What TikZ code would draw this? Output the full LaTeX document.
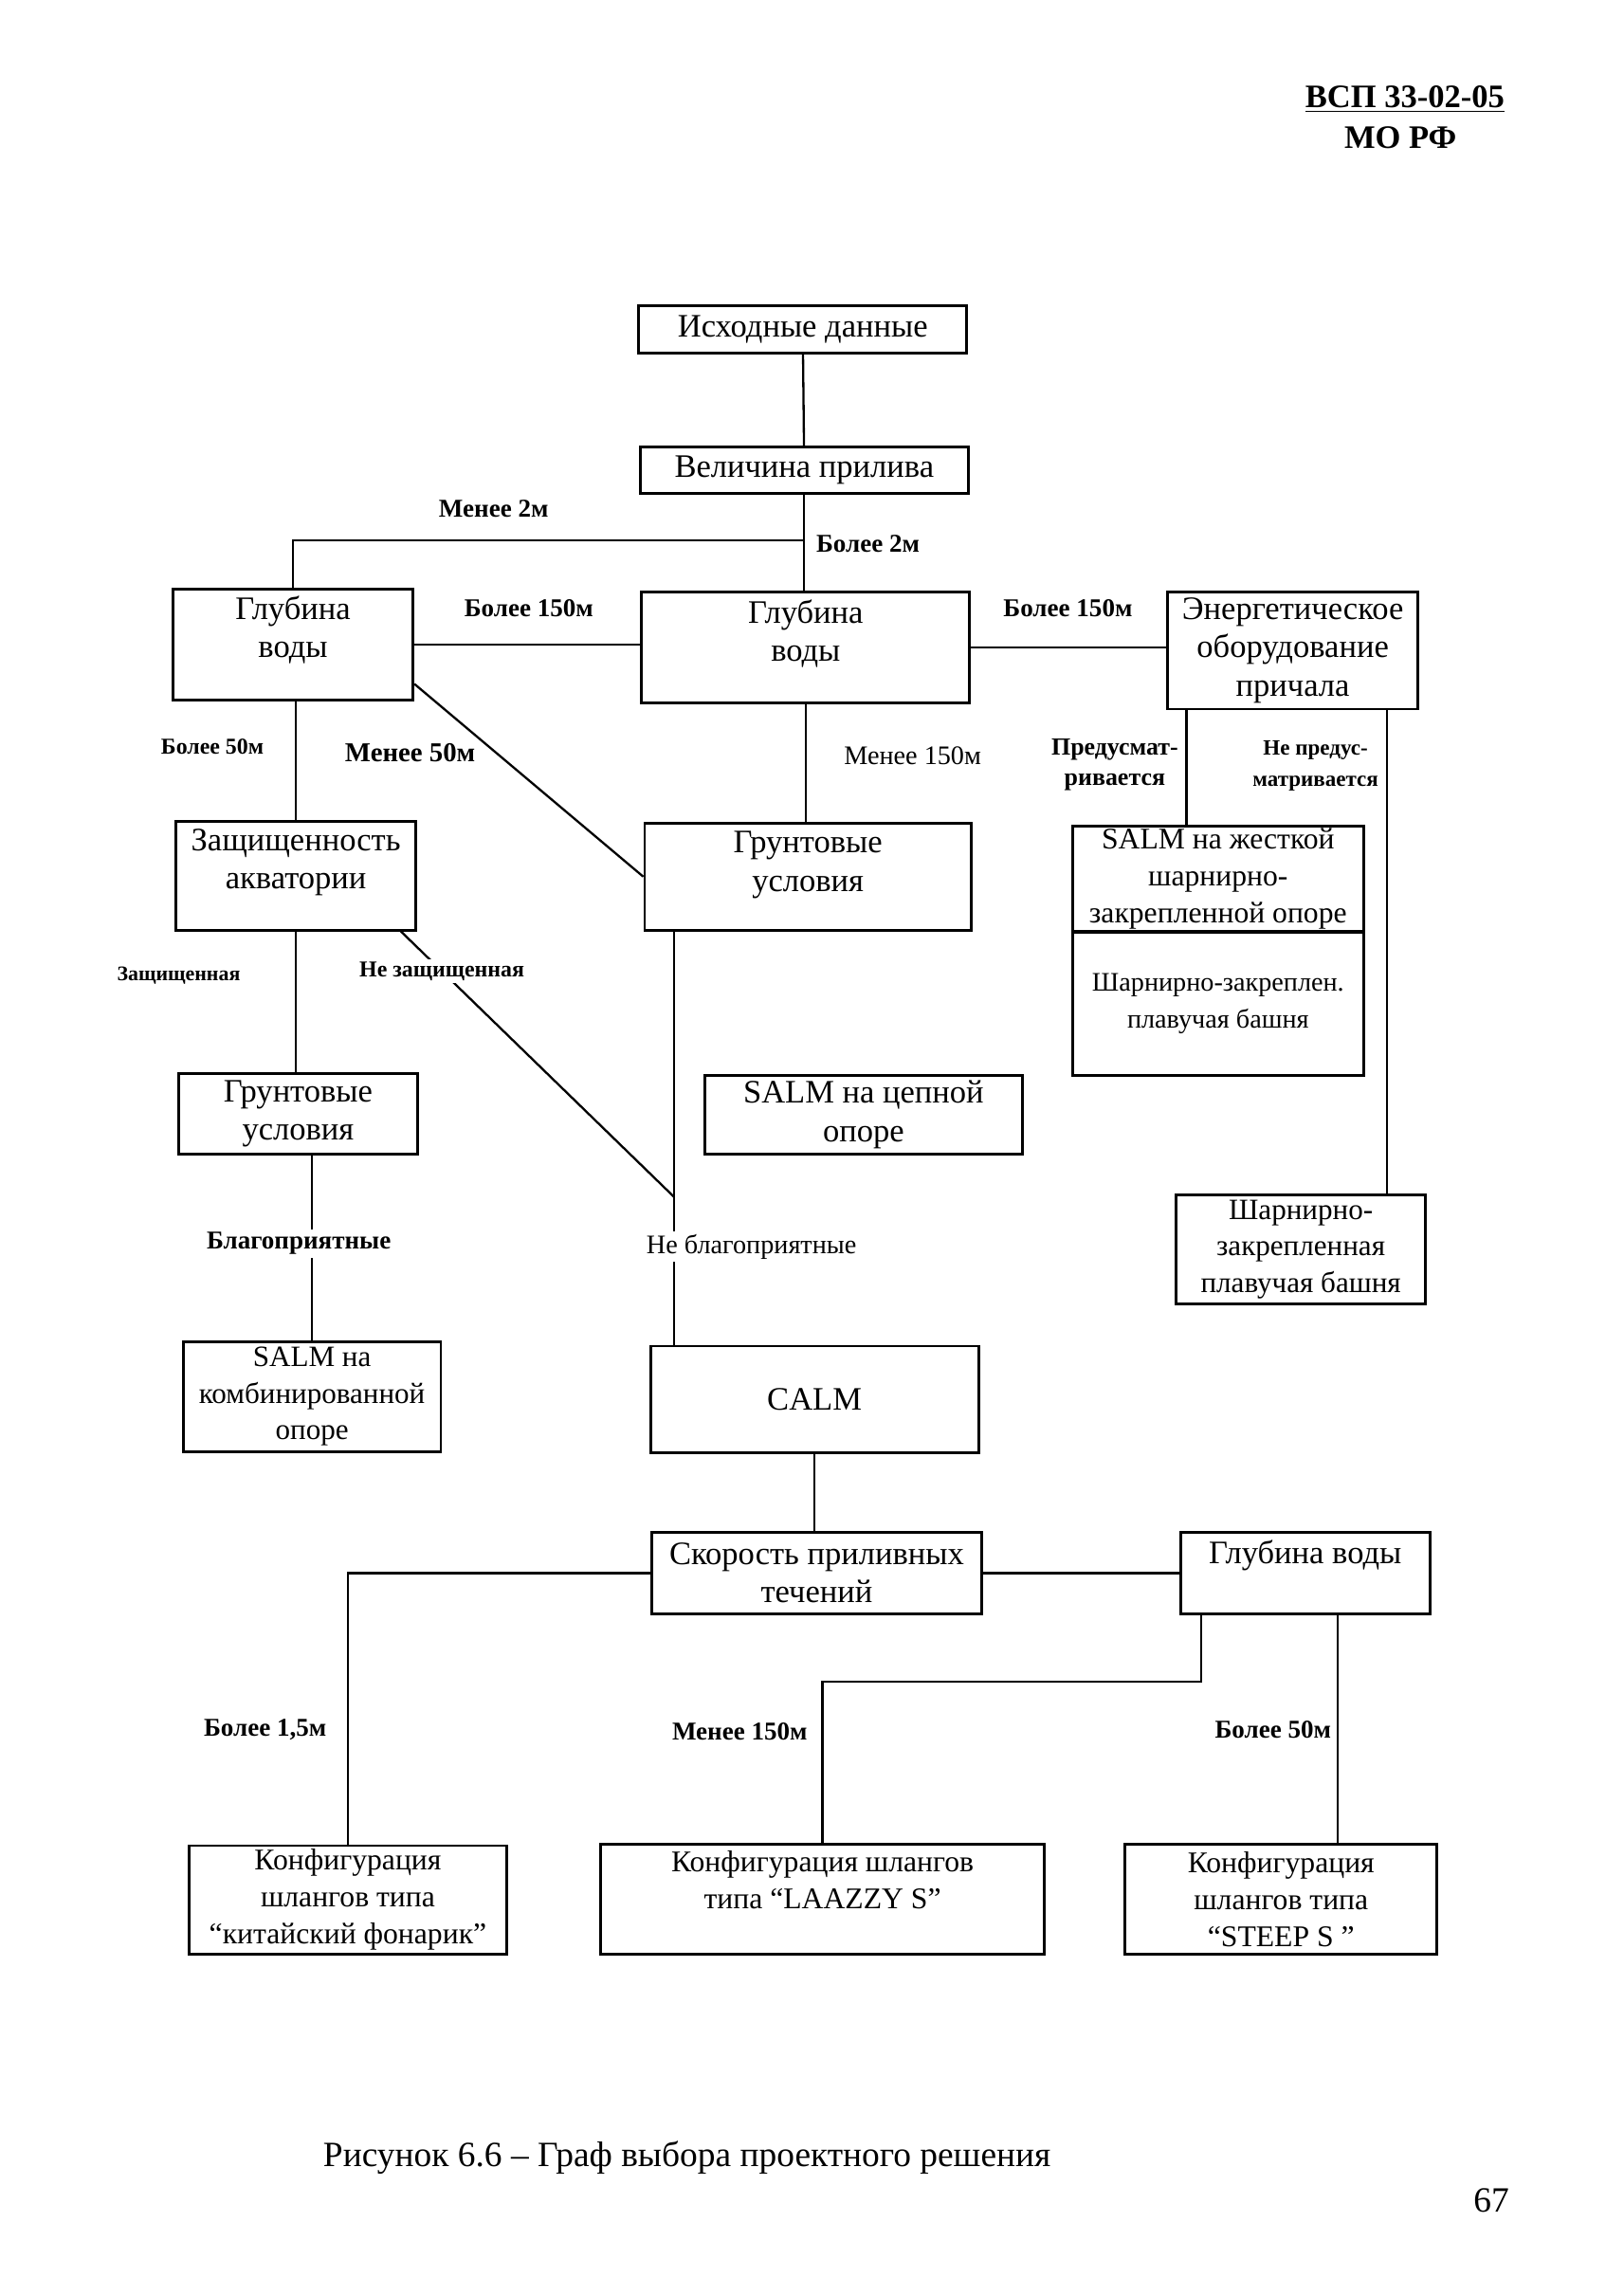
\documentclass[tikz,border=0pt]{standalone}
\usepackage{fontspec}
\setmainfont{Liberation Serif}
\begin{document}
\begin{tikzpicture}[x=0.5367pt, y=-0.5367pt,
  box/.style={draw=black, line width=1pt, align=center, inner sep=1pt,
    font=\fontsize{12pt}{14pt}\selectfont},
  smallbox/.style={box, font=\fontsize{11pt}{13.5pt}\selectfont},
  lbl/.style={font=\fontsize{9.4pt}{11pt}\selectfont\bfseries, align=center, inner sep=1pt},
  tinylbl/.style={lbl, font=\fontsize{8.3pt}{11.3pt}\selectfont\bfseries},
  plainlbl/.style={lbl, font=\fontsize{9.8pt}{11pt}\selectfont},
  link/.style={line width=0.8pt}]
  \useasboundingbox (0,0) rectangle (1108.6,1566.8);
  % header
  \node[font=\fontsize{12pt}{15pt}\selectfont\bfseries] (doc) at (959,68) {\underline{ВСП 33-02-05}};
  \node[font=\fontsize{12pt}{15pt}\selectfont\bfseries] (org) at (956,94) {МО РФ};

  \node[box, minimum width=120.2pt, minimum height=17.2pt] (src) at (548,225) {Исходные данные};
  \node[box, minimum width=120.2pt, minimum height=17.2pt] (tide) at (549,321) {Величина прилива};
  \node[box, minimum width=88pt, minimum height=40.8pt] (depthL) at (200,440) {Глубина\\воды\\[-1.2pt]};
  \node[box, minimum width=120.2pt, minimum height=40.8pt] (depthC) at (550,442) {Глубина\\воды\\[-1.7pt]};
  \node[box, minimum width=91.8pt, minimum height=43pt] (power) at (882.5,444) {Энергетическое\\оборудование\\причала};
  \node[box, minimum width=88pt, minimum height=39.7pt] (shelter) at (202,598) {Защищенность\\акватории\\[-1.7pt]};
  \node[box, minimum width=119.6pt, minimum height=39.2pt] (soilC) at (551.5,598.5) {Грунтовые\\условия\\[-2.8pt]};
  \node[smallbox, minimum width=106.8pt, minimum height=38.7pt] (salmrigid) at (831.5,600) {SALM на жесткой\\шарнирно-\\закрепленной опоре};
  \node[smallbox, minimum width=106.8pt, minimum height=52.6pt, font=\fontsize{9.8pt}{13.5pt}\selectfont] (towerA) at (831.5,685) {Шарнирно-закреплен.\\плавучая башня};
  \node[box, minimum width=87.5pt, minimum height=29.6pt] (soilL) at (203.5,760.5) {Грунтовые\\условия};
  \node[box, minimum width=116.5pt, minimum height=29pt] (salmchain) at (589.5,761) {SALM на цепной\\опоре};
  \node[smallbox, minimum width=91.3pt, minimum height=39.7pt, font=\fontsize{10.8pt}{13.4pt}\selectfont] (towerB) at (888,853) {Шарнирно-\\закрепленная\\плавучая башня};
  \node[smallbox, minimum width=94.4pt, minimum height=40.3pt, font=\fontsize{10.8pt}{13.4pt}\selectfont] (salmcomb) at (213,953.5) {SALM на\\комбинированной\\опоре};
  \node[box, minimum width=120.2pt, minimum height=39.2pt] (calm) at (556,955.5) {CALM};
  \node[box, minimum width=120.7pt, minimum height=30.1pt] (speed) at (557.5,1074) {Скорость приливных\\течений};
  \node[box, minimum width=91.3pt, minimum height=30.1pt] (depthB) at (891,1074) {Глубина воды\\[1.5pt]};
  \node[smallbox, minimum width=116.5pt, minimum height=39.7pt] (lantern) at (237.5,1297) {Конфигурация\\шлангов типа\\“китайский фонарик”};
  \node[smallbox, minimum width=162.7pt, minimum height=40.3pt] (lazy) at (561.5,1296.5) {Конфигурация шлангов\\типа “LAAZZY S”\\[0.7pt]};
  \node[smallbox, minimum width=114.3pt, minimum height=40.3pt] (steep) at (874.5,1296.5) {Конфигурация\\шлангов типа\\“STEEP S ”};

  \coordinate (tidefork) at (549,369);
  \coordinate (soilfork) at (460,817);
  \coordinate (lazyturn) at (561.5,1148);

  \draw[link] (src) -- (tide);
  \draw[link] (tide.south) -- (tide.south |- depthC.north);
  \draw[link] (tidefork) -| (depthL.north);
  \draw[link] (depthL.east) -- (depthL.east -| depthC.west);
  \draw[link] (depthC.east) -- (depthC.east -| power.west);
  \draw[link] (depthC.south) -- (depthC.south |- soilC.north);
  \draw[link] (shelter.north |- depthL.south) -- (shelter.north);
  \draw[link] (depthL.-18) -- (soilC.west);
  \draw[link] ([xshift=7.5pt]power.south west) coordinate (pa) -- (pa |- salmrigid.north);
  \draw[link] ([xshift=-11.8pt]power.south east) coordinate (pb) -- (pb |- towerB.north);
  \draw[link] (shelter.south) -- (shelter.south |- soilL.north);
  \draw[link] ([xshift=-6pt]shelter.south east) -- node[tinylbl, fill=white, pos=0.15] (lblunprot) {Не защищенная} (soilfork);
  \draw[link] (soilC.south -| soilfork) -- (soilfork) -- (soilfork |- calm.north);
  \draw[link] (soilL.south -| salmcomb.north) -- (salmcomb.north);
  \draw[link] (calm.south) -- (calm.south |- speed.north);
  \draw[link] (speed.west) -| (lantern.north);
  \draw[link] (speed.east) -- (depthB.west);
  \draw[link] ([xshift=8pt]depthB.south west) |- (lazyturn) -- (lazy.north);
  \draw[link] ([xshift=11.8pt]depthB.south) coordinate (db) -- (db |- steep.north);

  % labels
  \node[lbl] (lblless2) at (337,347) {Менее 2м};
  \node[lbl, anchor=west] (lblmore2) at (555,371) {Более 2м};
  \node[lbl] (lbl150a) at (361,415) {Более 150м};
  \node[lbl] (lbl150b) at (729,415) {Более 150м};
  \node[tinylbl] (lbl50a) at (145,510) {Более 50м};
  \node[lbl, font=\fontsize{10pt}{11pt}\selectfont\bfseries] (lblless50) at (280,514) {Менее 50м};
  \node[plainlbl] (lblless150) at (623,516) {Менее 150м};
  \node[tinylbl, font=\fontsize{9pt}{11.3pt}\selectfont\bfseries] (lblprov) at (761,522) {Предусмат-\\ривается};
  \node[tinylbl, font=\fontsize{8pt}{11.3pt}\selectfont\bfseries] (lblnoprov) at (898,523) {Не предус-\\матривается};
  \node[tinylbl, font=\fontsize{7.6pt}{11pt}\selectfont\bfseries] (lblprot) at (122,666) {Защищенная};
  \node[lbl, fill=white] (lblgood) at (204,849) {Благоприятные};
  \node[plainlbl, fill=white] (lblbad) at (513,851) {Не благоприятные};
  \node[lbl] (lbl15) at (181,1181) {Более 1,5м};
  \node[lbl] (lblless150b) at (505,1182) {Менее 150м};
  \node[lbl] (lbl50b) at (869,1181) {Более 50м};

  \node[font=\fontsize{13pt}{16pt}\selectfont] (caption) at (469,1473) {Рисунок 6.6 – Граф выбора проектного решения};
  \node[font=\fontsize{13pt}{15pt}\selectfont] (pageno) at (1018,1502) {67};
\end{tikzpicture}
\end{document}
